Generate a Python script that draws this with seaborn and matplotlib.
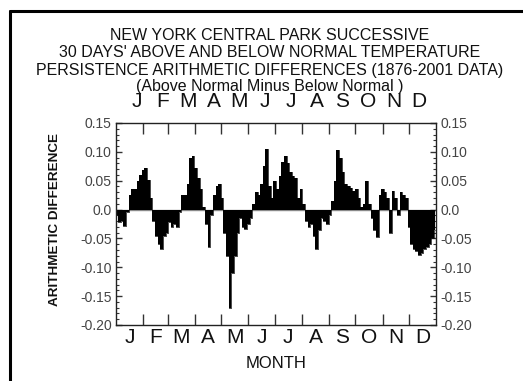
"""
Persistencia de temperatura en Central Park: diferencias aritmeticas diarias
(dias por encima de lo normal menos dias por debajo), valores leidos del grafico.
"""

import matplotlib
import matplotlib.pyplot as plt
import pandas as pd
import seaborn as sns
from matplotlib.lines import Line2D
from matplotlib.ticker import FixedLocator, FuncFormatter, MultipleLocator, NullFormatter

matplotlib.use("Agg")

# --- Datos (un valor cada 3 dias, leido a ojo) ---
DAYS = list(range(1, 365, 3))
VALUES = [
    -0.010, -0.022, -0.020, -0.028, -0.005, 0.025, 0.035, 0.035, 0.050, 0.060,
    0.068, 0.072, 0.052, 0.020, -0.020, -0.045, -0.060, -0.068, -0.045, -0.040,
    -0.022, -0.030, -0.025, -0.030, -0.005, 0.025, 0.025, 0.045, 0.090, 0.092,
    0.072, 0.055, 0.035, 0.005, -0.025, -0.065, -0.010, 0.025, 0.040, 0.044,
    0.020, -0.040, -0.080, -0.170, -0.110, -0.080, -0.040, -0.015, -0.030, -0.033,
    -0.025, -0.015, 0.010, 0.030, 0.025, 0.045, 0.075, 0.105, 0.040, 0.020,
    0.050, 0.035, 0.058, 0.083, 0.092, 0.080, 0.065, 0.058, 0.055, 0.020,
    0.035, 0.010, -0.020, -0.030, -0.025, -0.045, -0.068, -0.035, -0.015, -0.020,
    -0.025, -0.010, 0.015, 0.050, 0.104, 0.090, 0.065, 0.045, 0.040, 0.038,
    0.033, 0.035, 0.020, 0.005, 0.010, 0.050, 0.010, -0.015, -0.035, -0.048,
    0.025, 0.035, 0.030, 0.020, -0.040, 0.033, 0.020, -0.010, 0.030, 0.025,
    0.020, -0.030, -0.060, -0.068, -0.072, -0.078, -0.075, -0.068, -0.065, -0.060,
    -0.050, -0.035,
]
MONTH_LABELS = ["J", "F", "M", "A", "M", "J", "J", "A", "S", "O", "N", "D"]
MONTH_EDGES = [0, 31, 59, 90, 120, 151, 181, 212, 243, 273, 304, 334, 365]

TITLE_LINES = [
    "NEW YORK CENTRAL PARK SUCCESSIVE",
    "30 DAYS' ABOVE AND BELOW NORMAL TEMPERATURE",
    "PERSISTENCE ARITHMETIC DIFFERENCES (1876-2001 DATA)",
    "(Above Normal Minus Below Normal )",
]

W, H = 523, 381
TEXT = "#111111"
TICK_TEXT = "#444444"

sns.set_theme(style="white")
plt.rcParams["font.family"] = ["Liberation Sans", "DejaVu Sans"]
plt.rcParams["axes.unicode_minus"] = False

df = pd.DataFrame({"day": DAYS, "value": VALUES})

fig = plt.figure(figsize=(W / 100, H / 100), dpi=100, facecolor="white")
ax = fig.add_axes([116 / W, 56 / H, 320 / W, 202 / H])

ax.fill_between(df["day"], df["value"], 0, step="mid", color="black", linewidth=0)
sns.lineplot(data=df, x="day", y="value", drawstyle="steps-mid", color="black",
             linewidth=0.5, ax=ax)
ax.axhline(0, color="#8a8a8a", linewidth=1.0, zorder=0)

ax.set_xlim(0, 365)
ax.set_ylim(-0.20, 0.15)
ax.set_xlabel("")
ax.set_ylabel("")

for side in ["left", "right", "top", "bottom"]:
    ax.spines[side].set_color("#222222")
    ax.spines[side].set_linewidth(1.0)

# Eje X: marcas de limite de mes, sin etiquetas
ax.xaxis.set_major_locator(FixedLocator(MONTH_EDGES[1:-1]))
ax.xaxis.set_major_formatter(NullFormatter())
ax.tick_params(axis="x", which="major", direction="in", length=8, width=1,
               color="#333333", top=True, bottom=True)

# Eje Y: mayores cada 0.05, menores cada 0.01, etiquetas a ambos lados
ax.yaxis.set_major_locator(MultipleLocator(0.05))
ax.yaxis.set_minor_locator(MultipleLocator(0.01))
ax.yaxis.set_major_formatter(
    FuncFormatter(lambda v, _: "0.0" if abs(v) < 1e-9 else f"{v:.2f}")
)
ax.tick_params(axis="y", which="major", direction="in", length=4.5, width=1,
               color="#333333", left=True, right=True, labelleft=True,
               labelright=True, labelsize=10, labelcolor=TICK_TEXT, pad=3)
ax.tick_params(axis="y", which="minor", direction="in", length=2.5, width=0.8,
               color="#333333", left=True, right=True)

# Letras de los meses (abajo en el centro del mes, arriba algo desplazadas)
trans = ax.get_xaxis_transform()
for i, lab in enumerate(MONTH_LABELS):
    centro = (MONTH_EDGES[i] + MONTH_EDGES[i + 1]) / 2
    ax.text(centro, -0.06, lab, transform=trans, ha="center", va="center",
            fontsize=15, color=TEXT)
    arriba = 23.6 + 29.3 * i
    ax.text(arriba, 1.107, lab, transform=trans, ha="center", va="center",
            fontsize=15, color=TEXT)

fig.text(276 / W, 1 - 363 / H, "MONTH", ha="center", va="center",
         fontsize=12, color=TEXT)
fig.text(55 / W, 1 - 220 / H, "ARITHMETIC DIFFERENCE", rotation=90,
         ha="center", va="center", fontsize=9.7, fontweight="bold", color=TEXT)

for y_px, linea in zip([35.5, 52.5, 70, 86], TITLE_LINES):
    fig.text(270 / W, 1 - y_px / H, linea, ha="center", va="center",
             fontsize=11.5, color=TEXT)

# Marco exterior (solo arriba e izquierda, recortado)
fig.add_artist(Line2D([10 / W, 1], [1 - 11 / H, 1 - 11 / H],
                      transform=fig.transFigure, color="black", linewidth=2.2))
fig.add_artist(Line2D([10 / W, 10 / W], [0, 1 - 11 / H],
                      transform=fig.transFigure, color="black", linewidth=2.2))

fig.savefig("out.png", dpi=100, facecolor=fig.get_facecolor())
plt.close(fig)
